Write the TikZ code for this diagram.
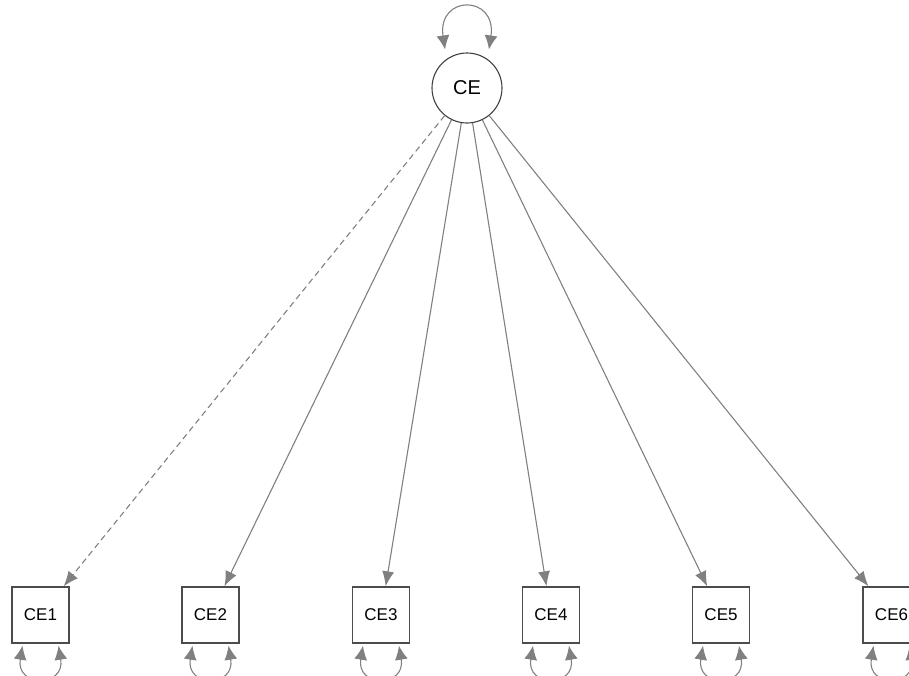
\documentclass[tikz,border=0pt]{standalone}
\usepackage{fontspec}
\setmainfont{Liberation Sans}
\usetikzlibrary{arrows.meta}
\begin{document}
\begin{tikzpicture}[x=1pt,y=1pt,
  latent/.style={circle,draw=black!75,line width=1.1pt,minimum size=70pt,inner sep=0pt,font=\fontsize{20}{22}\selectfont},
  manifest/.style={rectangle,draw=black!70,line width=1.4pt,minimum width=57pt,minimum height=56pt,inner sep=0pt,font=\fontsize{17}{19}\selectfont},
  path/.style={draw=black!50,line width=1.1pt,-{Latex[length=15pt,width=12pt]}},
  fixedpath/.style={path,dash pattern=on 6pt off 4pt},
  varloop/.style={draw=black!50,line width=1.1pt,{Latex[length=14pt,width=13pt]}-{Latex[length=14pt,width=13pt]}}
]
\useasboundingbox (0,0) rectangle (909,-675);
\clip (0,0) rectangle (909,-675);
\node[latent] (CE) at (467,-88) {CE};
\node[manifest] (CE1) at (40.5,-615) {CE1};
\node[manifest] (CE2) at (210.5,-615) {CE2};
\node[manifest] (CE3) at (381,-615) {CE3};
\node[manifest] (CE4) at (551,-615) {CE4};
\node[manifest] (CE5) at (721,-615) {CE5};
\node[manifest] (CE6) at (891.5,-615) {CE6};
\draw[fixedpath] (CE) -- (CE1);
\foreach \n in {CE2,CE3,CE4,CE5,CE6} \draw[path] (CE) -- (\n);
\draw[varloop] ([shift={(-22,3)}]CE.north) .. controls +(-8,55) and +(8,55) .. ([shift={(22,3)}]CE.north);
\foreach \n in {CE1,CE2,CE3,CE4,CE5,CE6}
  \draw[varloop] ([shift={(-18,-2)}]\n.south) .. controls +(-7,-42) and +(7,-42) .. ([shift={(18,-2)}]\n.south);
\end{tikzpicture}
\end{document}
